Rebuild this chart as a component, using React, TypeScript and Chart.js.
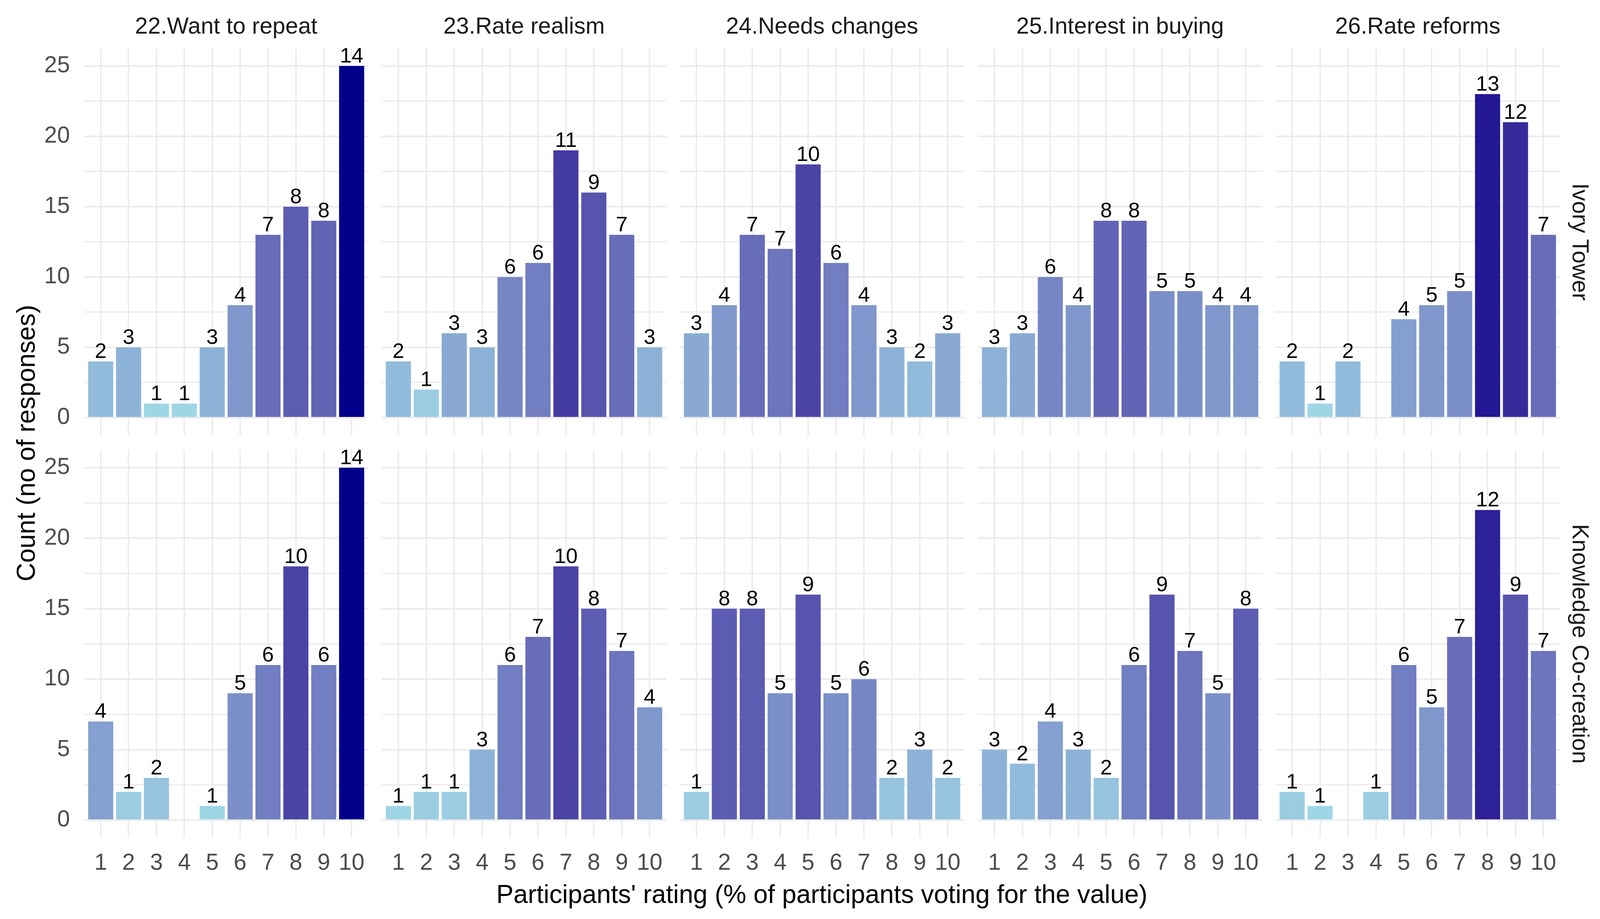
import React, { useEffect, useRef } from 'react';
import { Chart, registerables } from 'chart.js';

Chart.register(...registerables);
Chart.defaults.font.family = '"Liberation Sans", Arial, sans-serif';

// ---- data ----
const ratings = [1, 2, 3, 4, 5, 6, 7, 8, 9, 10];
const questions = ['22.Want to repeat', '23.Rate realism', '24.Needs changes', '25.Interest in buying', '26.Rate reforms'];
const groups = ['Ivory Tower', 'Knowledge Co-creation'];

// number of responses per rating (null = nobody)
const ivoryRepeat = [4, 5, 1, 1, 5, 8, 13, 15, 14, 25];
const ivoryRealism = [4, 2, 6, 5, 10, 11, 19, 16, 13, 5];
const ivoryChanges = [6, 8, 13, 12, 18, 11, 8, 5, 4, 6];
const ivoryBuying = [5, 6, 10, 8, 14, 14, 9, 9, 8, 8];
const ivoryReforms = [4, 1, 4, null, 7, 8, 9, 23, 21, 13];
const coRepeat = [7, 2, 3, null, 1, 9, 11, 18, 11, 25];
const coRealism = [1, 2, 2, 5, 11, 13, 18, 15, 12, 8];
const coChanges = [2, 15, 15, 9, 16, 9, 10, 3, 5, 3];
const coBuying = [5, 4, 7, 5, 3, 11, 16, 12, 9, 15];
const coReforms = [2, 1, null, 2, 11, 8, 13, 22, 16, 12];

// % of participants shown above the bars
const ivoryRepeatPct = [2, 3, 1, 1, 3, 4, 7, 8, 8, 14];
const ivoryRealismPct = [2, 1, 3, 3, 6, 6, 11, 9, 7, 3];
const ivoryChangesPct = [3, 4, 7, 7, 10, 6, 4, 3, 2, 3];
const ivoryBuyingPct = [3, 3, 6, 4, 8, 8, 5, 5, 4, 4];
const ivoryReformsPct = [2, 1, 2, null, 4, 5, 5, 13, 12, 7];
const coRepeatPct = [4, 1, 2, null, 1, 5, 6, 10, 6, 14];
const coRealismPct = [1, 1, 1, 3, 6, 7, 10, 8, 7, 4];
const coChangesPct = [1, 8, 8, 5, 9, 5, 6, 2, 3, 2];
const coBuyingPct = [3, 2, 4, 3, 2, 6, 9, 7, 5, 8];
const coReformsPct = [1, 1, null, 1, 6, 5, 7, 12, 9, 7];

const yTicks = [0, 2.5, 5, 7.5, 10, 12.5, 15, 17.5, 20, 22.5, 25];

const counts = [
  [ivoryRepeat, ivoryRealism, ivoryChanges, ivoryBuying, ivoryReforms],
  [coRepeat, coRealism, coChanges, coBuying, coReforms],
];
const pcts = [
  [ivoryRepeatPct, ivoryRealismPct, ivoryChangesPct, ivoryBuyingPct, ivoryReformsPct],
  [coRepeatPct, coRealismPct, coChangesPct, coBuyingPct, coReformsPct],
];

// ---- colour scale: lightblue -> darkblue, interpolated in Lab like ggplot ----
const toLin = (c: number) => {
  const v = c / 255;
  return v <= 0.04045 ? v / 12.92 : Math.pow((v + 0.055) / 1.055, 2.4);
};
const fromLin = (v: number) => {
  const c = v <= 0.0031308 ? 12.92 * v : 1.055 * Math.pow(v, 1 / 2.4) - 0.055;
  return Math.round(Math.min(1, Math.max(0, c)) * 255);
};
const rgbToLab = (r: number, g: number, b: number) => {
  const R = toLin(r), G = toLin(g), B = toLin(b);
  const X = (0.4124 * R + 0.3576 * G + 0.1805 * B) / 0.95047;
  const Y = 0.2126 * R + 0.7152 * G + 0.0722 * B;
  const Z = (0.0193 * R + 0.1192 * G + 0.9505 * B) / 1.08883;
  const f = (t: number) => (t > 0.008856 ? Math.cbrt(t) : 7.787 * t + 16 / 116);
  return [116 * f(Y) - 16, 500 * (f(X) - f(Y)), 200 * (f(Y) - f(Z))];
};
const labToRgb = (L: number, a: number, b: number) => {
  const fy = (L + 16) / 116;
  const fx = fy + a / 500;
  const fz = fy - b / 200;
  const inv = (t: number) => (t * t * t > 0.008856 ? t * t * t : (t - 16 / 116) / 7.787);
  const X = inv(fx) * 0.95047, Y = inv(fy), Z = inv(fz) * 1.08883;
  const R = 3.2406 * X - 1.5372 * Y - 0.4986 * Z;
  const G = -0.9689 * X + 1.8758 * Y + 0.0415 * Z;
  const B = 0.0557 * X - 0.204 * Y + 1.057 * Z;
  return `rgb(${fromLin(R)},${fromLin(G)},${fromLin(B)})`;
};
const lowLab = rgbToLab(158, 214, 230);
const highLab = rgbToLab(0, 0, 139);
const fillFor = (v: number | null) => {
  if (v == null) return 'rgba(0,0,0,0)';
  const t = Math.min(1, Math.max(0, (v - 1) / 24));
  return labToRgb(
    lowLab[0] + (highLab[0] - lowLab[0]) * t,
    lowLab[1] + (highLab[1] - lowLab[1]) * t,
    lowLab[2] + (highLab[2] - lowLab[2]) * t,
  );
};

// ---- page scaling: design is 4181x2352, the window may be a bit smaller ----
const DESIGN_W = 4181;
const DESIGN_H = 2352;
const viewW = typeof window !== 'undefined' && window.innerWidth ? window.innerWidth : DESIGN_W;
const viewH = typeof window !== 'undefined' && window.innerHeight ? window.innerHeight : DESIGN_H;
const sx = Math.min(1, viewW / DESIGN_W);
const sy = Math.min(1, viewH / DESIGN_H);
const sf = (sx + sy) / 2;
const X = (v: number) => Math.round(v * sx);
const Y = (v: number) => Math.round(v * sy);
const F = (v: number) => Math.round(v * sf);

// ---- plugin: % labels above bars ----
const barLabels = {
  id: 'barLabels',
  afterDatasetsDraw(chart: any, _args: any, opts: any) {
    const { ctx } = chart;
    const meta = chart.getDatasetMeta(0);
    ctx.save();
    ctx.font = `${F(55)}px "Liberation Sans", Arial, sans-serif`;
    ctx.fillStyle = '#000000';
    ctx.textAlign = 'center';
    ctx.textBaseline = 'alphabetic';
    meta.data.forEach((bar: any, i: number) => {
      const p = opts.labels ? opts.labels[i] : null;
      if (p == null) return;
      ctx.fillText(String(p), bar.x, bar.y - Y(9));
    });
    ctx.restore();
  },
};

// ---- layout (design px) ----
const panelLefts = [219, 997, 1776, 2555, 3333];
const panelWidth = 744;
const rowTop = [124, 1152];
const rowHeight = [990, 992];
const yAxisWidth = 120;
const xAxisHeight = 120;
const bottomPadTop = 30;

const noPadding = (s: any) => {
  s.paddingTop = 0;
  s.paddingBottom = 0;
  s.paddingLeft = 0;
  s.paddingRight = 0;
};

type PanelProps = { row: number; col: number };

const Panel: React.FC<PanelProps> = ({ row, col }) => {
  const chartRef = useRef<HTMLCanvasElement>(null);
  const values = counts[row][col];
  const labels = pcts[row][col];

  const leftExtra = col === 0 ? yAxisWidth : 0;
  const topExtra = row === 0 ? rowTop[0] : bottomPadTop;
  const bottomExtra = row === 1 ? xAxisHeight : 0;

  const left = X(panelLefts[col] - leftExtra);
  const right = X(panelLefts[col] + panelWidth);
  const top = Y(rowTop[row] - topExtra);
  const bottom = Y(rowTop[row] + rowHeight[row] + bottomExtra);
  const yW = X(panelLefts[col]) - left;
  const titleTop = Y(34);
  const titleBottom = Y(rowTop[0]) - titleTop - Math.round(F(60) * 1.2);

  useEffect(() => {
    if (!chartRef.current) return;
    const chart = new Chart(chartRef.current, {
      type: 'bar',
      data: {
        datasets: [
          {
            data: ratings.map((r, i) => ({ x: r, y: values[i] })) as any,
            backgroundColor: values.map((v) => fillFor(v)),
            borderWidth: 0,
            barPercentage: 0.9,
            categoryPercentage: 1,
          },
        ],
      },
      options: {
        animation: false,
        responsive: true,
        maintainAspectRatio: false,
        devicePixelRatio: 1,
        layout: {
          padding: { top: row === 1 ? Y(bottomPadTop) : 0, right: 0, left: 0, bottom: 0 },
        },
        plugins: {
          legend: { display: false },
          tooltip: { enabled: false },
          title: {
            display: row === 0,
            text: questions[col],
            fullSize: false,
            color: '#1A1A1A',
            font: { size: F(60), weight: 'normal', lineHeight: 1.2 },
            padding: { top: titleTop, bottom: titleBottom },
          },
          barLabels: { labels },
        } as any,
        scales: {
          x: {
            type: 'linear',
            min: 0.4,
            max: 10.6,
            offset: false,
            afterBuildTicks: (s: any) => {
              s.ticks = ratings.map((v) => ({ value: v }));
            },
            afterFit: (s: any) => {
              s.height = Y(bottomExtra);
              noPadding(s);
            },
            ticks: {
              display: row === 1,
              autoSkip: false,
              maxRotation: 0,
              color: '#4D4D4D',
              font: { size: F(60) },
              padding: Y(30),
            },
            grid: { color: '#EBEBEB', lineWidth: 3.5, drawTicks: false, offset: false },
            border: { display: false },
          },
          y: {
            type: 'linear',
            min: -1.25,
            max: 26.25,
            afterBuildTicks: (s: any) => {
              s.ticks = yTicks.map((v) => ({ value: v }));
            },
            afterFit: (s: any) => {
              s.width = yW;
              noPadding(s);
            },
            ticks: {
              display: col === 0,
              autoSkip: false,
              color: '#4D4D4D',
              font: { size: F(60) },
              padding: X(37),
              callback: (v: any) => (Number(v) % 5 === 0 ? String(v) : ''),
            },
            grid: {
              color: '#EBEBEB',
              lineWidth: (ctx: any) => (ctx.tick && ctx.tick.value % 5 === 0 ? 4 : 3),
              drawTicks: false,
            },
            border: { display: false },
          },
        },
      } as any,
      plugins: [barLabels],
    });
    return () => {
      chart.destroy();
    };
  }, [row, col]);

  return (
    <div style={{ position: 'absolute', left, top, width: right - left, height: bottom - top }}>
      <canvas ref={chartRef} />
    </div>
  );
};

const App: React.FC = () => {
  const stripStyle: React.CSSProperties = {
    position: 'absolute',
    left: X(4130),
    transform: 'translate(-50%, -50%) rotate(90deg)',
    fontSize: F(60),
    color: '#1A1A1A',
    whiteSpace: 'nowrap',
  };
  return (
    <div
      style={{
        position: 'absolute',
        left: 0,
        top: 0,
        width: X(DESIGN_W),
        height: Y(DESIGN_H),
        overflow: 'hidden',
        background: '#FFFFFF',
        fontFamily: '"Liberation Sans", Arial, sans-serif',
      }}
    >
      {[0, 1].map((row) => [0, 1, 2, 3, 4].map((col) => <Panel key={`${row}-${col}`} row={row} col={col} />))}
      {groups.map((g, row) => (
        <div key={g} style={{ ...stripStyle, top: Y(rowTop[row] + rowHeight[row] / 2) }}>
          {g}
        </div>
      ))}
      <div
        style={{
          position: 'absolute',
          left: X(67),
          top: Y(1134),
          transform: 'translate(-50%, -50%) rotate(-90deg)',
          fontSize: F(67),
          color: '#000000',
          whiteSpace: 'nowrap',
        }}
      >
        Count (no of responses)
      </div>
      <div
        style={{
          position: 'absolute',
          left: X(2148),
          top: Y(2288),
          transform: 'translate(-50%, -50%)',
          fontSize: F(67),
          color: '#000000',
          whiteSpace: 'nowrap',
        }}
      >
        Participants' rating (% of participants voting for the value)
      </div>
    </div>
  );
};

export default App;
